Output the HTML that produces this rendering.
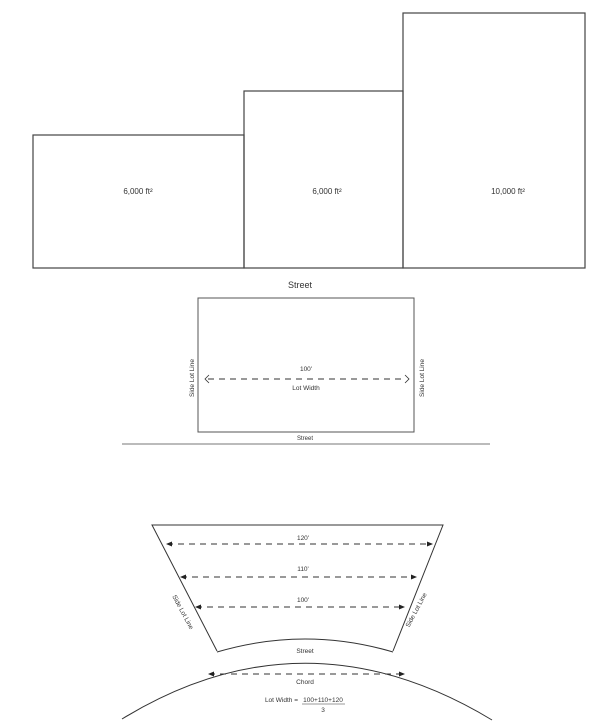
<!DOCTYPE html>
<html><head><meta charset="utf-8"><style>body{margin:0;background:#fff}svg{display:block}text{font-family:"Liberation Sans",sans-serif;fill:#333}</style></head><body>
<svg width="600" height="728" viewBox="0 0 600 728" xmlns="http://www.w3.org/2000/svg">
<defs>
<marker id="a" markerWidth="6" markerHeight="6" refX="5" refY="3" orient="auto-start-reverse"><path d="M0,0.5 L6,3 L0,5.5 z" fill="#222"/></marker>
</defs>
<g fill="none" stroke="#444" stroke-width="1.2">
<rect x="33" y="135" width="211" height="133"/>
<rect x="244" y="91" width="159" height="177"/>
<rect x="403" y="13" width="182" height="255"/>
</g>
<g font-size="8" text-anchor="middle">
<text x="138" y="194">6,000 ft²</text>
<text x="327" y="194">6,000 ft²</text>
<text x="508" y="194">10,000 ft²</text>
</g>
<text x="300" y="288" font-size="9" text-anchor="middle">Street</text>
<rect x="198" y="298" width="216" height="134" fill="none" stroke="#555" stroke-width="1"/>
<line x1="122" y1="444" x2="490" y2="444" stroke="#777" stroke-width="1"/>
<text x="305" y="440" font-size="6" text-anchor="middle">Street</text>
<line x1="208" y1="379" x2="406" y2="379" stroke="#333" stroke-dasharray="6,5"/>
<path d="M209,375 L205,379 L209,383 M405,375 L409,379 L405,383" fill="none" stroke="#333" stroke-width="0.8"/>
<text x="306" y="371" font-size="6.5" text-anchor="middle">100'</text>
<text x="306" y="390" font-size="6.5" text-anchor="middle">Lot Width</text>
<text transform="translate(194,378) rotate(-90)" font-size="6.5" text-anchor="middle">Side Lot Line</text>
<text transform="translate(424,378) rotate(-90)" font-size="6.5" text-anchor="middle">Side Lot Line</text>
<g fill="none" stroke="#333" stroke-width="1">
<path d="M217,651 L152,525 L443,525 L393,651"/>
<path d="M217,652 Q305,626 393,652"/>
<path d="M122,719 Q305,607 492,720"/>
</g>
<g stroke="#333" stroke-dasharray="6,5" marker-start="url(#a)" marker-end="url(#a)">
<line x1="167" y1="544" x2="432" y2="544"/>
<line x1="181" y1="577" x2="416" y2="577"/>
<line x1="196" y1="607" x2="404" y2="607"/>
<line x1="209" y1="674" x2="404" y2="674"/>
</g>
<g font-size="6.5" text-anchor="middle">
<text x="303" y="540">120'</text>
<text x="303" y="571">110'</text>
<text x="303" y="602">100'</text>
<text x="305" y="653">Street</text>
<text x="305" y="684">Chord</text>
<text x="298" y="702" text-anchor="end">Lot Width =</text>
<text x="323" y="702">100+110+120</text>
<text x="323" y="712">3</text>
</g>
<line x1="302" y1="704" x2="345" y2="704" stroke="#333" stroke-width="0.6"/>
<text transform="translate(181,613) rotate(62)" font-size="6.5" text-anchor="middle">Side Lot Line</text>
<text transform="translate(418,611) rotate(-62)" font-size="6.5" text-anchor="middle">Side Lot Line</text>
</svg>
</body></html>
